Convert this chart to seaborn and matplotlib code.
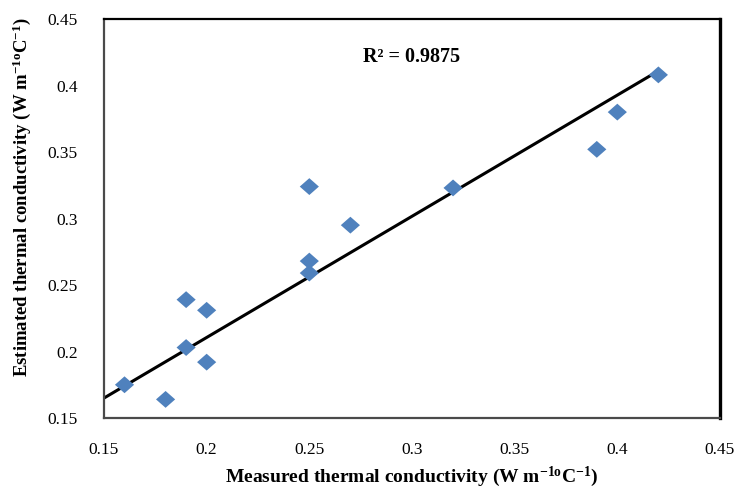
import matplotlib
matplotlib.use("Agg")
import matplotlib.pyplot as plt
import seaborn as sns
import pandas as pd

# Data
measured = [0.16, 0.18, 0.19, 0.19, 0.20, 0.20, 0.25, 0.25, 0.25, 0.27, 0.32, 0.39, 0.40, 0.42]
estimated = [0.175, 0.164, 0.239, 0.203, 0.231, 0.192, 0.324, 0.268, 0.259, 0.295, 0.323, 0.352, 0.380, 0.408]
trend_x = [0.15, 0.42]
trend_y = [0.165, 0.411]
x_ticks = [0.15, 0.2, 0.25, 0.3, 0.35, 0.4, 0.45]
y_ticks = [0.15, 0.2, 0.25, 0.3, 0.35, 0.4, 0.45]
r2_label = "R² = 0.9875"

sns.set_style("white")
plt.rcParams["font.family"] = ["Liberation Serif", "DejaVu Serif"]
plt.rcParams["mathtext.fontset"] = "custom"
plt.rcParams["mathtext.rm"] = "Liberation Serif"
plt.rcParams["mathtext.bf"] = "Liberation Serif:bold"
plt.rcParams["mathtext.it"] = "Liberation Serif:italic"
plt.rcParams["text.color"] = "black"
plt.rcParams["axes.labelcolor"] = "black"
plt.rcParams["xtick.labelcolor"] = "black"
plt.rcParams["ytick.labelcolor"] = "black"

df = pd.DataFrame({"measured": measured, "estimated": estimated})
trend = pd.DataFrame({"x": trend_x, "y": trend_y})

fig = plt.figure(figsize=(7.38, 4.9), dpi=100)
ax = fig.add_axes([0.1409, 0.1469, 0.8347, 0.8143])

# slightly wide diamond, like the reference
diamond = [(-1.0, 0.0), (0.0, 0.88), (1.0, 0.0), (0.0, -0.88), (-1.0, 0.0)]

sns.lineplot(data=trend, x="x", y="y", ax=ax, color="black", linewidth=2.2, zorder=2)
sns.scatterplot(data=df, x="measured", y="estimated", ax=ax, marker=diamond, s=190,
                color="#4F81BD", edgecolor="none", linewidth=0, zorder=3)

ax.set_xlim(0.15, 0.45)
ax.set_ylim(0.15, 0.45)
ax.set_xticks(x_ticks)
ax.set_yticks(y_ticks)
ax.set_xticklabels([f"{t:g}" for t in x_ticks], fontsize=12.5)
ax.set_yticklabels([f"{t:g}" for t in y_ticks], fontsize=12.5)
ax.tick_params(axis="both", direction="in", length=4, width=1, color="#555555",
               labelcolor="black", top=False, right=False)
ax.tick_params(axis="x", pad=17)
ax.tick_params(axis="y", pad=19)

ax.spines["left"].set_color("#4a4a4a")
ax.spines["left"].set_linewidth(1.6)
ax.spines["bottom"].set_color("#4a4a4a")
ax.spines["bottom"].set_linewidth(1.6)
ax.spines["top"].set_color("black")
ax.spines["top"].set_linewidth(1.6)
ax.spines["right"].set_color("black")
ax.spines["right"].set_linewidth(2.4)
for sp in ax.spines.values():
    sp.set_visible(True)

ax.set_xlabel(r"Measured thermal conductivity (W m$^{\mathbf{-1o}}$C$^{\mathbf{-1}}$)",
              fontsize=14, fontweight="bold")
ax.set_ylabel(r"Estimated thermal conductivity (W m$^{\mathbf{-1o}}$C$^{\mathbf{-1}}$)",
              fontsize=13.5, fontweight="bold")
ax.xaxis.set_label_coords(0.5, -0.118)
ax.yaxis.set_label_coords(-0.115, 0.555)

ax.text(0.30, 0.4214, r2_label, fontsize=14.5, fontweight="bold", ha="center", va="center")

fig.savefig("out.png", dpi=100, facecolor="white")
